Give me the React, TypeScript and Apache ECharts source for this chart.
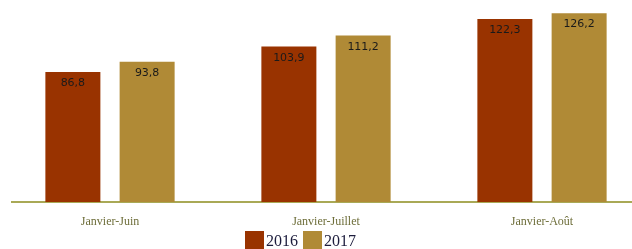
import React, { useEffect, useRef } from "react";
import * as echarts from "echarts";

const categories = ["Janvier-Juin", "Janvier-Juillet", "Janvier-Août"];
const values2016 = [86.8, 103.9, 122.3];
const values2017 = [93.8, 111.2, 126.2];
const seriesNames = ["2016", "2017"];

export default function App() {
  const ref = useRef<HTMLDivElement>(null);
  useEffect(() => {
    document.body.style.margin = "0";
    const chart = echarts.init(ref.current!, undefined, { renderer: "svg" });
    const label = {
      show: true,
      position: "insideTop",
      distance: 5,
      color: "#1a1a1a",
      fontFamily: "DejaVu Sans",
      fontSize: 11,
      formatter: (p: any) => String(p.value).replace(".", ","),
    };
    chart.setOption({
      animation: false,
      grid: { left: 2, top: 0, right: 0, height: 202 },
      legend: {
        data: seriesNames,
        left: 245,
        top: 231,
        padding: 0,
        itemWidth: 19,
        itemHeight: 19,
        itemGap: 5,
        icon: "rect",
        textStyle: {
          fontFamily: "Liberation Serif",
          fontSize: 16,
          lineHeight: 16,
          color: "#1c1c3c",
          padding: [0, 0, 0, -3],
        },
      },
      xAxis: {
        type: "category",
        data: categories,
        axisLine: { show: false },
        axisTick: { show: false },
        axisLabel: {
          margin: 13,
          fontFamily: "Liberation Serif",
          fontSize: 12,
          color: "#6e6e3a",
        },
      },
      yAxis: {
        type: "value",
        min: 0,
        max: 135,
        show: false,
        splitLine: { show: false },
      },
      graphic: [
        {
          type: "line",
          shape: { x1: 11, y1: 202, x2: 632, y2: 202 },
          style: { stroke: "#8c8c1e", lineWidth: 1.5 },
        },
      ],
      series: [
        {
          name: seriesNames[0],
          type: "bar",
          data: values2016,
          barWidth: 55,
          barGap: "35%",
          itemStyle: { color: "#993300" },
          label,
        },
        {
          name: seriesNames[1],
          type: "bar",
          data: values2017,
          barWidth: 55,
          itemStyle: { color: "#b08a36" },
          label,
        },
      ],
    });
    return () => chart.dispose();
  }, []);
  return (
    <div style={{ position: "fixed", left: 0, top: 0, width: 632, height: 249, overflow: "hidden" }}>
      <div ref={ref} style={{ position: "absolute", left: 0, top: 0, width: 650, height: 249 }} />
    </div>
  );
}
